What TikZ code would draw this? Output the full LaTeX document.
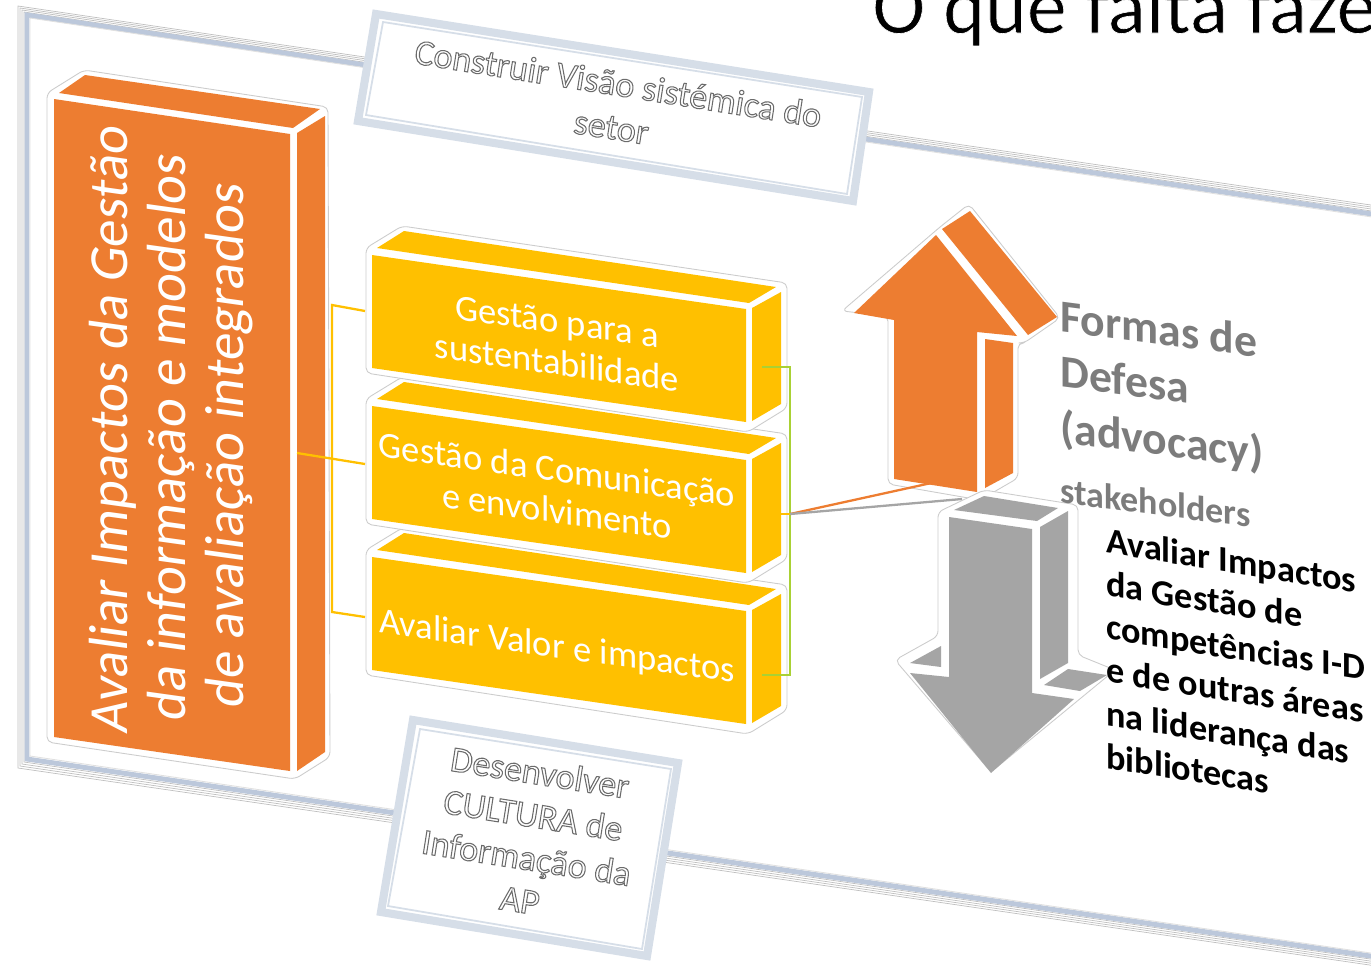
\documentclass[tikz,border=0pt]{standalone}
\usepackage{fontspec}
\setmainfont{Carlito}
\definecolor{boxorange}{HTML}{ED7D31}
\definecolor{boxyellow}{HTML}{FFC000}
\definecolor{boxgray}{HTML}{A5A5A5}
\definecolor{boxgreen}{HTML}{A9D134}
\definecolor{noteblue}{HTML}{D6DEE8}
\definecolor{frameblue}{HTML}{BCC8DB}
\newcommand{\outlined}[1]{\special{pdf:code 1 Tr 0.6 w 0.42 0.42 0.42 RG}#1\special{pdf:code 0 Tr 0 G}}
\newcommand{\thinned}[1]{\special{pdf:code 2 Tr 0.35 w 1 1 1 RG}#1\special{pdf:code 0 Tr 0 G}}
\tikzset{
  halo/.style={draw=black!20,fill=white,line width=0.5pt,rounded corners=3pt},
  skewed/.style={transform shape,yslant=-0.14,align=center,text=white,inner sep=0pt},
  notetext/.style={transform shape,rotate=-9,align=center,inner sep=0pt},
  sidetext/.style={transform shape,yslant=-0.13,align=left,inner sep=0pt,anchor=north west},
  noteband/.style={draw=noteblue,line width=4.6pt,fill=white,miter limit=10},
  noteline/.style={draw=noteblue,line width=1pt},
  link/.style={line width=1.3pt}
}
\begin{document}
\begin{tikzpicture}[x=0.02cm,y=0.02cm]
  \useasboundingbox (0,0) rectangle (1371,-968);
  \clip (0,0) rectangle (1371,-968);

  \foreach \d/\c/\w in {0/black!25/0.4pt,2/black!25/0.4pt,4/black!25/0.4pt,6/black!25/0.4pt,9/frameblue/2.8pt,12/black!12/0.5pt}
    \draw[draw=\c,line width=\w] (1500,-224-\d) -- (18+\d,-6-\d) -- (18+\d,-768+\d) -- (1500,-984+\d);

  \node (title) [anchor=base west,inner sep=0pt,font=\fontsize{45.4}{47}\selectfont] at (872,-33) {\thinned{O que falta fazer}};

  \draw[noteband] (376,-14) -- (869,-92) -- (853,-201) -- (358,-121) -- cycle;
  \draw[noteline] (383,-22) -- (862,-97) -- (847,-194) -- (366,-115) -- cycle;
  \node (visao) [notetext,font=\fontsize{20.5}{25}\selectfont] at (615,-105) {\outlined{Construir Visão sistémica do}\\\outlined{setor}};

  \draw[noteband] (413,-720) -- (678,-763) -- (647,-956) -- (381,-912) -- cycle;
  \draw[noteline] (420,-729) -- (671,-769) -- (642,-949) -- (388,-906) -- cycle;
  \node (cultura) [notetext,font=\fontsize{20.5}{24.5}\selectfont] at (530,-836) {\outlined{Desenvolver}\\\outlined{CULTURA de}\\\outlined{Informação da}\\\outlined{AP}};

  \draw[halo] (47,-93) -- (84,-70) -- (328,-107) -- (330,-757) -- (295,-779) -- (47,-742) -- cycle;
  \fill[boxorange] (54,-99) -- (290,-134) -- (290,-771) -- (54,-737) -- cycle;
  \fill[boxorange] (59,-93) -- (85,-75) -- (320,-109) -- (293,-128) -- cycle;
  \fill[boxorange] (297,-133) -- (325,-116) -- (325,-752) -- (297,-771) -- cycle;
  \node (impactos) [skewed,rotate=90,font=\fontsize{31.4}{33}\selectfont] at (171,-437) {Avaliar Impactos da Gestão\\da informação e modelos\\de avaliação integrados};

  \foreach \off in {302,151,0} {
    \begin{scope}[shift={(0,-\off)}]
      \draw[halo] (366,-248) -- (402,-226) -- (787,-283) -- (787,-408) -- (748,-432) -- (366,-373) -- cycle;
      \fill[boxyellow] (372,-255) -- (746,-309) -- (746,-422) -- (372,-368) -- cycle;
      \fill[boxyellow] (377,-248) -- (404,-231) -- (776,-287) -- (749,-303) -- cycle;
      \fill[boxyellow] (752,-308) -- (781,-292) -- (781,-404) -- (752,-421) -- cycle;
    \end{scope}
  }
  \node (sustent) [skewed,font=\fontsize{20.8}{23.5}\selectfont] at (557,-342) {Gestão para a\\sustentabilidade};
  \node (comunic) [skewed,font=\fontsize{20.8}{23.5}\selectfont] at (557,-490) {Gestão da Comunicação\\e envolvimento};
  \node (valor) [skewed,font=\fontsize{20.8}{23.5}\selectfont] at (557,-648) {Avaliar Valor e impactos};

  \coordinate (leftmid) at (297,-453);
  \coordinate (lefttop) at (332,-305);
  \coordinate (leftbot) at (332,-612);
  \coordinate (yellow1) at (365,-311);
  \coordinate (yellow2) at (365,-464);
  \coordinate (yellow3) at (365,-617);
  \draw[link,boxyellow] (yellow1) -- (lefttop) -- (leftbot) -- (yellow3);
  \draw[link,boxyellow] (leftmid) -- (yellow2);

  \coordinate (green1) at (762,-367);
  \coordinate (green2) at (790,-367);
  \coordinate (green3) at (790,-675);
  \coordinate (green4) at (762,-675);
  \coordinate (hub) at (790,-514);
  \coordinate (hubleft) at (781,-514);
  \coordinate (uparrow) at (945,-480);
  \coordinate (downarrow) at (962,-499);
  \draw[link,boxgreen] (green1) -- (green2) -- (green3) -- (green4);
  \draw[link,boxyellow] (hubleft) -- (hub);

  \draw[halo] (969,-204) -- (1060,-318) -- (1024,-343) -- (1018,-343) -- (1018,-478) -- (980,-500) -- (888,-484) -- (888,-316) -- (842,-311) -- (940,-227) -- cycle;
  \fill[boxorange] (936,-235) -- (1017,-336) -- (977,-332) -- (977,-492) -- (894,-479) -- (894,-320) -- (854,-313) -- cycle;
  \fill[boxorange] (942,-229) -- (970,-211) -- (1057,-317) -- (1028,-335) -- cycle;
  \fill[boxorange] (985,-339) -- (1013,-343) -- (1013,-473) -- (985,-488) -- cycle;

  \draw[halo] (984,-490) -- (1078,-505) -- (1078,-655) -- (1115,-670) -- (991,-772) -- (895,-660) -- (938,-636) -- (938,-512) -- cycle;
  \fill[boxgray] (954,-510) -- (984,-496) -- (1058,-508) -- (1037,-521) -- cycle;
  \fill[boxgray] (949,-517) -- (1032,-529) -- (1032,-693) -- (1074,-699) -- (991,-773) -- (910,-673) -- (949,-677) -- cycle;
  \fill[boxgray] (1040,-527) -- (1068,-511) -- (1068,-663) -- (1040,-679) -- cycle;
  \fill[boxgray] (910,-663) -- (941,-646) -- (941,-667) -- cycle;
  \fill[boxgray] (1044,-685) -- (1068,-669) -- (1107,-675) -- (1080,-691) -- cycle;

  \draw[link,boxorange] (hub) -- (uparrow);
  \draw[link,boxgray] (hub) -- (downarrow);

  \node (defesa) [sidetext,font=\bfseries\fontsize{26}{31.5}\selectfont,text=boxgray!75!black] at (1060,-299) {Formas de\\Defesa\\(advocacy)};
  \node (stake) [sidetext,font=\bfseries\fontsize{20.5}{23}\selectfont,text=boxgray!75!black] at (1060,-477) {stakeholders};
  \node (lideranca) [sidetext,yslant=-0.03,font=\bfseries\fontsize{20.6}{24.5}\selectfont] at (1106,-527) {Avaliar Impactos\\da Gestão de\\competências I-D\\e de outras áreas\\na liderança das\\bibliotecas};
\end{tikzpicture}
\end{document}
